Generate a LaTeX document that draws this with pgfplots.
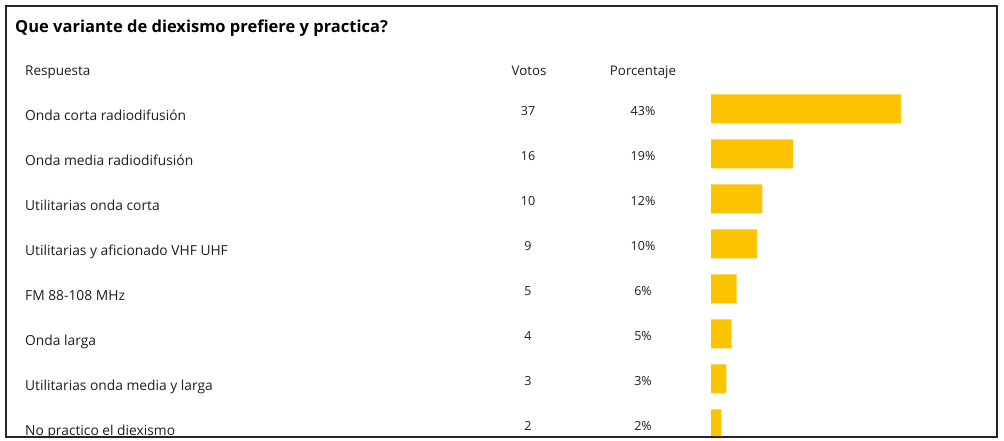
\documentclass[border=0pt]{standalone}
\usepackage{pgfplots}
\pgfplotsset{compat=1.18}
\usepackage{pgfplotstable}
\usepackage{fontspec}
\setmainfont{Open Sans}
\definecolor{bargold}{RGB}{252,196,0}
\definecolor{txt}{RGB}{30,30,30}
\pgfplotstableread[col sep=comma]{
label,votos,pct
Onda corta radiodifusión,37,43
Onda media radiodifusión,16,19
Utilitarias onda corta,10,12
Utilitarias y aficionado VHF UHF,9,10
FM 88-108 MHz,5,6
Onda larga,4,5
Utilitarias onda media y larga,3,3
No practico el diexismo,2,2
}\datatable
\begin{document}
\begin{tikzpicture}[x=1pt,y=1pt]
\useasboundingbox (0,0) rectangle (1004,441);
\fill[white] (0,0) rectangle (1004,441);
% title and headers
\node[anchor=base west,inner sep=0pt,text=black,font=\fontsize{16.5}{19}\selectfont\bfseries] at (15,441-33) {Que variante de diexismo prefiere y practica?};
\node[anchor=base west,inner sep=0pt,text=txt,font=\fontsize{13.5}{16}\selectfont] at (25,441-76) {Respuesta};
\node[anchor=base,inner sep=0pt,text=txt,font=\fontsize{13.3}{16}\selectfont] at (529,441-76) {Votos};
\node[anchor=base,inner sep=0pt,text=txt,font=\fontsize{13.3}{16}\selectfont] at (643,441-76) {Porcentaje};
% rows
\pgfplotstablegetrowsof{\datatable}
\pgfmathtruncatemacro{\nrows}{\pgfplotsretval-1}
\foreach \i in {0,...,\nrows}{
  \pgfplotstablegetelem{\i}{label}\of\datatable \let\lab\pgfplotsretval
  \pgfplotstablegetelem{\i}{votos}\of\datatable \let\vot\pgfplotsretval
  \pgfplotstablegetelem{\i}{pct}\of\datatable \let\pc\pgfplotsretval
  \node[anchor=base west,inner sep=0pt,text=txt,font=\fontsize{13.8}{16}\selectfont] at (25,441-121-45*\i) {\lab};
  \node[anchor=base,inner sep=0pt,text=txt,font=\fontsize{12.5}{15}\selectfont] at (528,441-115.5-45*\i) {\vot};
  \node[anchor=base,inner sep=0pt,text=txt,font=\fontsize{12.5}{15}\selectfont] at (643,441-115.5-45*\i) {\pc\%};
}
\begin{axis}[
  at={(711pt,441pt-86.5pt)}, anchor=north west,
  scale only axis, width=190pt, height=360pt,
  xmin=0, xmax=37, ymin=-0.5, ymax=7.5, y dir=reverse,
  hide axis, xbar, bar width=29pt,
]
\addplot[draw=none, fill=bargold] table[x=votos, y expr=\coordindex] {\datatable};
\end{axis}
% frame
\draw[line width=2pt, black!85] (6,4) rectangle (997,435);
\end{tikzpicture}
\end{document}
